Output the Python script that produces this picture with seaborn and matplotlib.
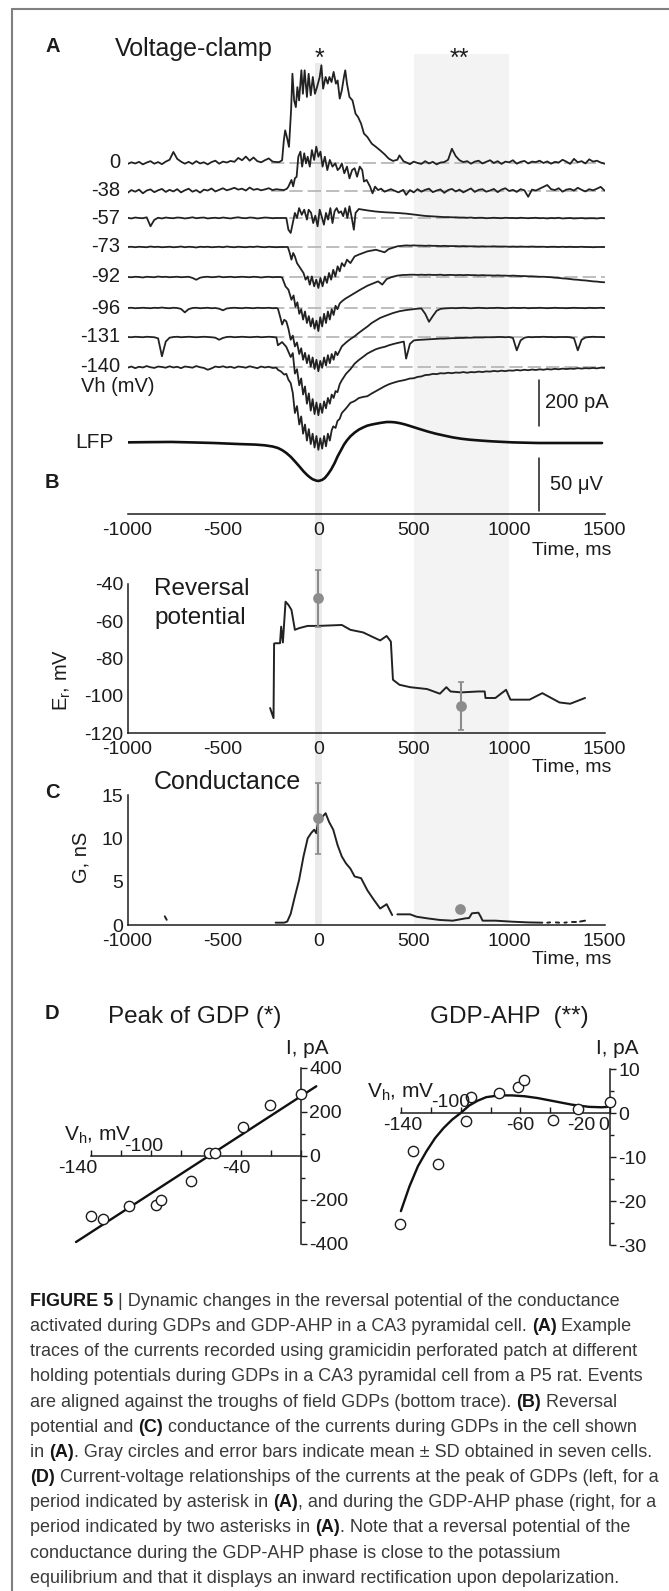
import numpy as np
import matplotlib
matplotlib.use("Agg")
import matplotlib.pyplot as plt
import seaborn as sns
from matplotlib.lines import Line2D
from matplotlib.ticker import MultipleLocator

# ---------------- values ----------------
HOLDING = ["0", "-38", "-57", "-73", "-92", "-96", "-131", "-140"]

GRID_PRE = list(range(-1000, -200, 20))   # ms, quiet stretch before the GDP
GRID_POST = list(range(460, 1501, 20))    # ms, stretch after the GDP

# currents in pA relative to each baseline
pre_0 = [-4, 3, -2, 5, -6, 2, 8, -3, 4, -5, 6, 14, 48, 18, 6, -3, 5, -4, 8, -2,
         3, -6, 4, 10, -3, 6, 2, 9, 5, 22, 12, 28, 10, 24, 8, 3, 12, 20, 6, 4]
ev_t_0 = [-205, -190, -181, -174, -165, -154, -143, -136, -127, -118, -110, -101, -89, -81, -72,
          -60, -51, -40, -29, -18, -7, 7, 16, 25, 38, 49, 58, 69, 80, 92, 101, 112, 123, 134,
          141, 150, 163, 179, 195, 208, 224, 239, 257, 280, 302, 324, 347, 369, 391, 414, 425, 447]
ev_i_0 = [4, 12, 98, 142, 113, 70, 229, 388, 272, 243, 330, 272, 403, 301, 403, 287, 388, 294,
          374, 301, 330, 374, 425, 323, 374, 345, 374, 352, 396, 345, 359, 280, 316, 374, 403,
          345, 287, 272, 214, 200, 171, 128, 113, 84, 70, 55, 38, 19, 9, 14, 33, 7]
post_0 = [3, -5, 6, 0, -4, 8, -2, 5, -6, 2, 4, 14, 62, 30, 12, 4, 8, -3, 6, 10, -2, 5, 12, 0,
          8, -4, 6, 3, 12, -3, 5, 9, -2, 6, 4, 10, 0, 7, -3, 5, 2, 14, 6, -4, 18, 3, 8, -2,
          16, 6, 10, 2, -3]

pre_38 = [-8, 4, -3, 6, -10, 2, 7, -5, 3, 9, -4, 5, -2, 8, -6, 3, 10, -3, 4, -7,
          6, 2, 11, -2, 5, 12, 3, 8, 14, 6, 10, 2, 15, 5, 9, 3, 7, 12, 4, 8]
ev_t_38 = [-205, -180, -165, -157, -141, -132, -123, -114, -105, -94, -85, -74, -65, -56, -45,
           -34, -22, -11, 0, 11, 22, 34, 47, 60, 74, 89, 101, 112, 123, 136, 150, 163, 177, 190,
           203, 217, 230, 239, 253, 271, 284, 297, 313, 329, 347, 380, 420, 445]
ev_i_38 = [6, 4, 10, 19, 48, 20, 55, 62, 149, 171, 106, 164, 120, 149, 106, 178, 135, 193, 149,
           171, 106, 149, 91, 135, 106, 120, 91, 100, 120, 77, 106, 55, 91, 99, 62, 106, 91, 41,
           48, 19, -10, 19, 4, 10, -3, 8, -6, 5]
post_38 = [-17, 4, -6, 8, -3, 5, 10, -5, 2, 7, -8, 4, 9, -2, 6, -6, 3, 11, -4, 5, 8, -3, 2, 9,
           -5, 6, 12, 0, 5, -4, 8, 3, -25, 6, 2, 10, 18, 26, 8, 4, 12, -3, 6, 9, 2, 14, 5, -2,
           8, 3, 10, 18, 2]

pre_57 = [1, -2, 2, 0, -1, 3, -36, -8, 1, -2, 2, 0, -1, 2, 1, -2, 0, 3, -1, 1,
          2, -2, 0, 1, -1, 2, 0, -2, 1, 3, 0, -1, 2, 1, -2, 0, 2, 1, -1, 0]
ev_t_57 = [-200, -168, -157, -145, -134, -123, -112, -101, -87, -74, -60, -51, -38, -27, -16,
           -4, 7, 18, 29, 40, 51, 63, 74, 85, 96, 107, 119, 130, 141, 152, 163, 174, 186, 195,
           212, 257, 302, 347, 414, 445]
ev_i_57 = [0, 0, -51, -65, -22, 22, 0, 43, 14, 36, -7, 36, 22, -22, 10, -36, 36, 5, -29, 22,
           -7, 43, -22, 29, 43, 22, 29, 8, 43, 0, 51, 6, -51, 22, 39, 33, 28, 25, 22, 20]
post_57 = [19, 17, 15, 13, 11, 9, 8, 7, 6, 5, 4, 4, 3, 3, 2, 2, 1, 2, 0, 1, 1, -1, 0, 1, 0,
           -1, 1, 0, 0, -1, 1, 0, -1, 0, 1, -1, 0, -2, 0, -1, 1, -2, -1, 0, -2, -1, 0, -2, -1,
           -1, -2, 0, -1]

pre_73 = [0, 1, -1, 1, 0, -1, 2, 0, 1, -1, 0, 1, -1, 0, 2, -1, 1, 0, -2, 1,
          0, 1, -1, 0, 1, -1, 2, 0, -1, 1, 0, -1, 1, 0, 2, 0, -1, 1, 0, -1]
ev_t_73 = [-200, -160, -150, -141, -132, -123, -112, -101, -89, -78, -67, -56, -45, -34, -22,
           -11, 0, 11, 22, 34, 45, 56, 67, 78, 89, 101, 112, 123, 136, 150, 168, 190, 212, 235,
           257, 302, 347, 369, 414, 445]
ev_i_73 = [0, 0, -26, -55, -26, -41, -70, -84, -99, -113, -142, -128, -164, -128, -171, -142,
           -178, -135, -171, -128, -156, -113, -142, -99, -128, -84, -106, -70, -84, -55, -70,
           -41, -33, -26, -19, -12, -23, -9, 3, 6]
post_73 = [7, 6, 7, 6, 6, 5, 6, 5, 5, 4, 5, 4, 4, 4, 3, 4, 3, 3, 3, 2, 3, 2, 2, 3, 2, 2, 2, 1,
           2, 1, 2, 1, 1, 2, 1, 1, 1, 0, 1, 1, 0, 1, 0, 1, 0, 0, 1, 0, 0, -1, 0, 0, 0]

pre_92 = [0, -1, 1, 0, -2, 1, 0, -1, 2, 0, 1, -1, 0, 1, -1, 0, 1, -4, -12, -3,
          0, 1, -1, 0, 2, -1, 0, 1, -1, 0, 1, 0, -1, 1, 0, -2, 0, 1, -1, 0]
ev_t_92 = [-200, -190, -172, -157, -141, -130, -120, -110, -100, -90, -80, -70, -60, -50, -40,
           -30, -20, -10, 0, 10, 20, 30, 40, 50, 60, 70, 80, 90, 100, 112, 123, 140, 160, 190,
           220, 257, 290, 313, 335, 358, 385, 414, 445]
ev_i_92 = [0, -2, -41, -55, -99, -80, -130, -110, -160, -140, -185, -150, -200, -170, -215, -180,
           -225, -190, -235, -175, -215, -160, -200, -150, -185, -140, -165, -125, -140, -115,
           -106, -95, -85, -70, -55, -38, -27, -19, -33, -9, 0, 6, 9]
post_92 = [9, 10, 10, 9, 10, 9, 10, 9, 9, 10, 8, 9, 9, 8, 9, 8, 9, 8, 8, 7, 8, 7, 7, 6, 7, 6,
           6, 5, 6, 5, 4, 4, 3, 3, 2, 1, 1, 0, -1, -3, -4, -6, -7, -9, -11, -12, -14, -15, -17,
           -19, -20, -22, -23]

pre_96 = [0, 1, -1, 0, 1, 0, -1, 1, 0, 2, 0, -1, 1, 0, -4, -19, -5, 0, 1, -1,
          0, 1, -1, 0, -3, -10, -2, 0, 1, 0, -1, 1, 0, -1, 1, 0, 0, 1, -1, 0]
ev_t_96 = [-212, -201, -190, -179, -168, -157, -145, -134, -123, -112, -100, -90, -80, -70, -60,
           -50, -40, -30, -20, -10, 0, 10, 20, 30, 40, 50, 60, 70, 80, 90, 100, 112, 123, 145,
           168, 190, 212, 235, 258, 280, 302, 324, 358, 391, 425, 445]
ev_i_96 = [-3, -36, -72, -51, -58, -90, -138, -120, -167, -150, -200, -175, -225, -195, -240,
           -205, -255, -215, -265, -225, -275, -230, -260, -215, -250, -205, -240, -200, -225,
           -190, -205, -185, -167, -150, -135, -123, -108, -94, -80, -65, -54, -43, -32, -22,
           -14, -11]
post_96 = [-9, -7, -5, -3, -2, -25, -60, -35, -12, -4, -2, -1, 0, -1, 0, 1, 0, -1, 0, 1, 0, -1,
           0, 0, 1, 0, -1, 0, 1, 0, 0, 1, -1, 0, 0, 1, 0, -1, 0, 1, 0, 0, -1, 0, 1, 0, 0, -1, 1,
           0, 0, 1, 0]

pre_131 = [0, -1, 1, 0, -1, 1, 0, -1, -6, -84, -20, -3, 0, 1, -1, 0, 1, 0, -1, 0,
           1, 0, -1, -3, -12, -4, 0, 1, -1, 0, 1, 0, -1, 0, 1, -1, 0, 1, 0, -2]
ev_t_131 = [-212, -190, -168, -145, -134, -123, -112, -100, -90, -80, -70, -60, -50, -40, -30,
            -20, -10, 0, 10, 20, 30, 40, 50, 60, 70, 80, 90, 100, 112, 123, 145, 168, 190, 212,
            235, 257, 280, 302, 325, 347, 370, 395, 420, 436, 448]
ev_i_131 = [-36, -22, -43, -87, -70, -159, -140, -210, -180, -250, -215, -290, -245, -320, -270,
            -335, -285, -340, -290, -330, -280, -310, -265, -290, -250, -265, -235, -240, -205,
            -188, -160, -140, -116, -100, -86, -72, -62, -53, -47, -43, -36, -30, -25, -22, -20]
post_131 = [-94, -30, -15, -13, -12, -11, -10, -9, -8, -7, -7, -6, -5, -5, -4, -4, -3, -3, -2,
            -2, -2, -1, -1, -1, 0, 0, -1, 0, -4, -58, -15, -3, 0, -1, 0, 0, 1, 0, 0, -1, 0, 0,
            0, -1, -5, -58, -12, -2, 0, 1, 0, 0, -1]

pre_140 = [-3, 2, -5, 1, -2, 4, -1, -4, 2, 0, -3, 3, -2, 1, -5, 2, 0, -3, 4, -1,
           -4, -12, -6, 2, -1, 3, -2, 1, -4, 2, 0, -3, 3, -1, -5, 2, -2, 1, -4, -3]
ev_t_140 = [-212, -195, -179, -168, -157, -145, -134, -123, -112, -100, -90, -80, -70, -60, -50,
            -40, -30, -20, -10, 0, 10, 20, 30, 40, 50, 60, 70, 78, 90, 100, 112, 123, 145, 168,
            190, 212, 235, 257, 280, 302, 325, 347, 370, 395, 420, 445]
ev_i_140 = [-12, -20, -33, -30, -55, -70, -113, -200, -170, -250, -215, -290, -250, -320, -270,
            -335, -290, -350, -300, -360, -310, -355, -300, -345, -290, -320, -275, -258, -265,
            -235, -225, -200, -180, -156, -148, -135, -130, -127, -115, -105, -95, -84, -75,
            -68, -62, -58]
post_140 = [-55, -50, -49, -43, -41, -35, -34, -30, -31, -27, -28, -25, -27, -24, -25, -22, -25,
            -22, -23, -20, -22, -19, -20, -17, -19, -16, -18, -15, -16, -13, -15, -12, -14, -11,
            -13, -10, -12, -9, -11, -8, -10, -7, -9, -7, -8, -5, -7, -5, -6, -4, -6, -3, -4]

# field potential (uV)
lfp_t = [-1000, -900, -771, -650, -548, -414, -330, -280, -240, -212, -190, -168, -145, -123,
         -100, -78, -60, -45, -30, -11, 0, 7, 20, 34, 50, 67, 85, 101, 118, 134, 150, 168, 190,
         212, 235, 257, 280, 302, 330, 358, 380, 402, 430, 458, 490, 525, 570, 615, 660, 704,
         750, 794, 850, 906, 960, 1017, 1080, 1152, 1241, 1350, 1487]
lfp_v = [0.6, 0.8, 1, 0.5, 0, -1, -1.5, -2.2, -3.3, -4.7, -6.7, -9.4, -13, -17.3, -22, -26.7,
         -30, -32.3, -34.2, -35.5, -35.8, -35.5, -34.8, -33, -29.5, -25, -19, -12.6, -7, -1.6,
         2.5, 6.3, 9.8, 12.6, 14.7, 16.4, 17.4, 18.2, 19.1, 19.8, 19.8, 19.5, 18.6, 17.3, 15.5,
         13.5, 11, 8.8, 7, 5.3, 4, 3.1, 2.3, 1.6, 1.1, 0.6, 0.3, 0, 0, 0, 0]

# reversal potential (mV)
er_t = [-253, -235, -232, -224, -201, -195, -186, -172, -157, -141, -123, -101, -56, 0, 123,
        168, 235, 280, 324, 358, 380, 391, 425, 481, 570, 637, 671, 693, 749, 839, 872, 876,
        928, 984, 1007, 1107, 1174, 1264, 1320, 1398]
er_v = [-106.6, -112, -72, -71.8, -71.8, -62.9, -71.4, -49.5, -51.2, -53.9, -64.6, -63.7,
        -62.5, -62.5, -62, -64.6, -66, -68.2, -70.3, -67.9, -70.9, -91.4, -94.1, -95.4, -96.4,
        -98.9, -95.4, -97.7, -98.2, -97.7, -97.7, -101.2, -101.2, -96.8, -102.1, -102.1,
        -98.6, -103.6, -104.3, -101.2]

# conductance (nS)
g_t = [-805, -795, np.nan,
       -224, -179, -163, -145, -123, -101, -78, -56, -38, -22, -11, 0, 22, 38, 56, 78, 101, 123,
       145, 168, 190, 224, 257, 291, 324, 358, 387, np.nan,
       414, 481, 514, 570, 637, 705, 772, 790, 805, 839, 850, 861, 928, 1018, 1100, 1174,
       np.nan, 1200, 1215, np.nan, 1245, 1262, np.nan, 1290, 1302, np.nan, 1330, 1352, np.nan,
       1372, 1398]
g_v = [1.0, 0.6, np.nan,
       0.27, 0.27, 0.4, 1.3, 3.3, 5.2, 7.9, 10.0, 10.6, 11.0, 10.6, 12.1, 12.5, 12.9, 11.9,
       11.0, 9.2, 7.9, 7.1, 6.5, 5.6, 5.4, 4.0, 2.9, 1.9, 2.4, 1.15, np.nan,
       1.23, 1.23, 0.96, 0.77, 0.58, 0.5, 0.77, 0.8, 1.35, 1.42, 1.0, 0.5, 0.5, 0.38, 0.3, 0.27,
       np.nan, 0.27, 0.3, np.nan, 0.3, 0.27, np.nan, 0.27, 0.3, np.nan, 0.3, 0.3, np.nan,
       0.4, 0.5]

# mean +- SD over seven cells
er_mean_t = [0, 749]
er_mean = [-47.7, -105.5]
er_sd = [15.3, 12.8]
g_mean_t = [0, 740]
g_mean = [12.3, 1.8]
g_sd = [4.1, 0]

BAND_MS = (500, 1000)
PEAK_MS = (-17, 17)

# I-V relations
iv_peak_v = [-140, -131.8, -114.5, -96.6, -93.2, -73.6, -61.3, -57.1, -38.6, -21, 0]
iv_peak_i = [-274, -286, -227, -223, -201, -114, 15, 14, 130, 230, 280]
fit_peak_v = [-150, 10.2]
fit_peak_i = [-391, 317]

iv_ahp_v = [-140.6, -132, -114.9, -96.3, -92.9, -74.3, -61.4, -57.7, -38.3, -21.4, 0]
iv_ahp_i = [-25.2, -8.7, -11.6, -1.9, 3.6, 4.5, 5.9, 7.6, -1.7, 0.9, 2.5]
fit_ahp_v = [-140, -134.3, -128.6, -122.9, -117.1, -111.4, -105.7, -100, -94.3, -88.6, -82.9,
             -74.3, -65.7, -57.1, -48.6, -37.1, -25.7, -14.3, -5.7, -1.4]
fit_ahp_i = [-22.3, -16.7, -12.1, -8.7, -5.7, -3.4, -1.5, 0, 1.7, 2.8, 3.6, 4.0, 4.0, 3.8, 3.4,
             2.65, 1.9, 1.4, 1.3, 1.4]

CAPTION = [
    [("FIGURE 5", True), (" | Dynamic changes in the reversal potential of the conductance", False)],
    [("activated during GDPs and GDP-AHP in a CA3 pyramidal cell. ", False), ("(A)", True), (" Example", False)],
    [("traces of the currents recorded using gramicidin perforated patch at different", False)],
    [("holding potentials during GDPs in a CA3 pyramidal cell from a P5 rat. Events", False)],
    [("are aligned against the troughs of field GDPs (bottom trace). ", False), ("(B)", True), (" Reversal", False)],
    [("potential and ", False), ("(C)", True), (" conductance of the currents during GDPs in the cell shown", False)],
    [("in ", False), ("(A)", True), (". Gray circles and error bars indicate mean \u00b1 SD obtained in seven cells.", False)],
    [("(D)", True), (" Current-voltage relationships of the currents at the peak of GDPs (left, for a", False)],
    [("period indicated by asterisk in ", False), ("(A)", True), (", and during the GDP-AHP phase (right, for a", False)],
    [("period indicated by two asterisks in ", False), ("(A)", True), (". Note that a reversal potential of the", False)],
    [("conductance during the GDP-AHP phase is close to the potassium", False)],
    [("equilibrium and that it displays an inward rectification upon depolarization.", False)],
]

# ---------------- style / layout ----------------
sns.set_theme(style="white")
plt.rcParams["font.family"] = ["Liberation Sans", "DejaVu Sans"]
plt.rcParams["axes.unicode_minus"] = False
plt.rcParams["mathtext.fontset"] = "custom"
plt.rcParams["mathtext.rm"] = "Liberation Sans"
plt.rcParams["mathtext.it"] = "Liberation Sans:italic"
plt.rcParams["mathtext.bf"] = "Liberation Sans:bold"

W, H = 669, 1591
INK = "#1c1c1c"
PT_GRAY = "#8c8c8c"
PA_PER_PX = 200 / 46
UV_PER_PX = 50 / 53
X0, X1 = 127.6, 604.5          # pixel span of -1000..1500 ms
A_TOP, A_AXIS = 40, 514
BASE_Y_PX = [163, 191, 218, 247, 277, 308, 337, 367]
LFP_Y_PX = 443
BAR_T = 1158

fig = plt.figure(figsize=(W / 100, H / 100), dpi=100)


def box(x0, y0, x1, y1):
    return [x0 / W, 1 - y1 / H, (x1 - x0) / W, (y1 - y0) / H]


def ftext(x, y, s, **kw):
    kw.setdefault("va", "center")
    kw.setdefault("color", INK)
    return fig.text(x / W, 1 - y / H, s, **kw)


def time_axis(ax):
    for side in ["top", "right"]:
        ax.spines[side].set_visible(False)
    ax.set_xlim(-1000, 1500)
    ax.set_xticks([-1000, -500, 0, 500, 1000, 1500])
    ax.tick_params(axis="both", direction="in", length=6, width=1.1, labelsize=14,
                   pad=4, colors=INK)
    ax.tick_params(axis="x", pad=6)
    ax.tick_params(axis="both", which="minor", direction="in", length=3, width=1.0, colors=INK)
    for s in ax.spines.values():
        s.set_color(INK)
        s.set_linewidth(1.1)
    ax.set_xlabel("")
    ax.set_ylabel("")
    ax.grid(False)


# frame
fig.add_artist(Line2D([12 / W, 1], [1 - 9 / H] * 2, transform=fig.transFigure,
                      color="#808080", lw=1.5))
fig.add_artist(Line2D([12 / W] * 2, [0, 1 - 9 / H], transform=fig.transFigure,
                      color="#808080", lw=1.5))

# shaded windows behind A-C
bg = fig.add_axes(box(X0, 54, X1, 925))
bg.set_xlim(-1000, 1500)
bg.axis("off")
bg.axvspan(*BAND_MS, color="#f3f3f3", lw=0)
bg.axvspan(*PEAK_MS, ymax=1 - 9 / 871, color="#ebebeb", lw=0)

# ---------------- panel A ----------------
ax_a = fig.add_axes(box(X0, A_TOP, X1, A_AXIS), facecolor="none")
traces = [(pre_0, ev_t_0, ev_i_0, post_0), (pre_38, ev_t_38, ev_i_38, post_38),
          (pre_57, ev_t_57, ev_i_57, post_57), (pre_73, ev_t_73, ev_i_73, post_73),
          (pre_92, ev_t_92, ev_i_92, post_92), (pre_96, ev_t_96, ev_i_96, post_96),
          (pre_131, ev_t_131, ev_i_131, post_131), (pre_140, ev_t_140, ev_i_140, post_140)]
for name, ypx, (pre, ev_t, ev_i, post) in zip(HOLDING, BASE_Y_PX, traces):
    off = (A_AXIS - ypx) * PA_PER_PX
    t = GRID_PRE[:len(pre)] + ev_t + GRID_POST[:len(post)]
    cur = np.array(pre + ev_i + post, dtype=float) + off
    ax_a.plot([-250, 1500], [off, off], color="#b3b3b3", lw=1.2, ls=(0, (8, 3)), zorder=1)
    sns.lineplot(x=t, y=cur, ax=ax_a, color="#222222", linewidth=1.3, estimator=None,
                 errorbar=None, zorder=2)
    ax_a.text(-1040, off, name, ha="right", va="center", fontsize=14.5, color=INK)
ax_a.plot([BAR_T, BAR_T], [(A_AXIS - 426) * PA_PER_PX, (A_AXIS - 426) * PA_PER_PX + 200],
          color=INK, lw=1.1)
time_axis(ax_a)
ax_a.spines["left"].set_visible(False)
ax_a.set_yticks([])
ax_a.set_ylim(0, (A_AXIS - A_TOP) * PA_PER_PX)
ax_a.set_xlim(-1000, 1500)

ax_l = fig.add_axes(box(X0, A_TOP, X1, A_AXIS), facecolor="none")
sns.lineplot(x=lfp_t, y=lfp_v, ax=ax_l, color="#111111", linewidth=1.9, estimator=None,
             errorbar=None)
bar_lo = -(511 - LFP_Y_PX) * UV_PER_PX
ax_l.plot([BAR_T, BAR_T], [bar_lo, bar_lo + 50], color=INK, lw=1.1)
ax_l.set_xlim(-1000, 1500)
ax_l.set_ylim(-(A_AXIS - LFP_Y_PX) * UV_PER_PX, (LFP_Y_PX - A_TOP) * UV_PER_PX)
ax_l.axis("off")

ftext(45, 47, "A", fontsize=14.5, fontweight="bold")
ftext(115, 49, "Voltage-clamp", fontsize=18)
ftext(319, 66, "*", fontsize=18, ha="center", va="baseline")
ftext(459, 66, "**", fontsize=18, ha="center", va="baseline")
ftext(81, 387, "Vh (mV)", fontsize=14.5)
ftext(545, 403, "200 pA", fontsize=14.5)
ftext(75, 443, "LFP", fontsize=15)
ftext(550, 485, "50 \u03bcV", fontsize=14.5)
ftext(45, 482, "B", fontsize=14.5, fontweight="bold")
ftext(611, 550, "Time, ms", fontsize=14, ha="right")

# ---------------- panel B ----------------
ax_b = fig.add_axes(box(X0, 584, X1, 733), facecolor="none")
sns.lineplot(x=er_t, y=er_v, ax=ax_b, color="#222222", linewidth=1.4, estimator=None,
             errorbar=None, zorder=2)
ax_b.errorbar(er_mean_t, er_mean, yerr=er_sd, fmt="none", ecolor=PT_GRAY, elinewidth=1.5,
              capsize=2.2, capthick=1.2, clip_on=False, zorder=3)
sns.scatterplot(x=er_mean_t, y=er_mean, ax=ax_b, color=PT_GRAY, s=60, linewidth=0,
                zorder=4, clip_on=False)
time_axis(ax_b)
ax_b.set_ylim(-120, -40)
ax_b.set_yticks([-120, -100, -80, -60, -40])
ax_b.yaxis.set_minor_locator(MultipleLocator(10))
ax_b.tick_params(axis="y", pad=3)
ftext(154, 589, "Reversal", fontsize=17.5)
ftext(154, 618, "potential", fontsize=17.5)
ftext(62, 680, "E$_\\mathrm{r}$, mV", fontsize=14.5, rotation=90, ha="center")
ftext(611, 767, "Time, ms", fontsize=14, ha="right")

# ---------------- panel C ----------------
ax_c = fig.add_axes(box(X0, 795, X1, 925), facecolor="none")
gt = np.array(g_t, dtype=float)
gv = np.array(g_v, dtype=float)
cuts = np.flatnonzero(np.isnan(gt))
for seg_t, seg_v in zip(np.split(gt, cuts), np.split(gv, cuts)):
    keep = ~np.isnan(seg_t)
    sns.lineplot(x=seg_t[keep], y=seg_v[keep], ax=ax_c, color="#222222", linewidth=1.4,
                 estimator=None, errorbar=None, zorder=2)
ax_c.errorbar(g_mean_t, g_mean, yerr=g_sd, fmt="none", ecolor=PT_GRAY, elinewidth=1.5,
              capsize=2.2, capthick=1.2, clip_on=False, zorder=3)
sns.scatterplot(x=g_mean_t, y=g_mean, ax=ax_c, color=PT_GRAY, s=60, linewidth=0,
                zorder=4, clip_on=False)
time_axis(ax_c)
ax_c.set_ylim(0, 15)
ax_c.set_yticks([0, 5, 10, 15])
ax_c.tick_params(axis="y", pad=3)
ftext(45, 792, "C", fontsize=14.5, fontweight="bold")
ftext(154, 782, "Conductance", fontsize=18)
ftext(81, 857, "G, nS", fontsize=14.5, rotation=90, ha="center")
ftext(611, 959, "Time, ms", fontsize=14, ha="right")


# ---------------- panel D ----------------
def iv_axes(rect, ylim, ybounds, yticks, yminor):
    ax = fig.add_axes(rect, facecolor="none")
    ax.set_xlim(-160, 30)
    ax.set_ylim(*ylim)
    ax.spines["left"].set_visible(False)
    ax.spines["top"].set_visible(False)
    ax.spines["right"].set_position(("data", 0))
    ax.spines["bottom"].set_position(("data", 0))
    ax.spines["right"].set_bounds(*ybounds)
    ax.spines["bottom"].set_bounds(-140, 0)
    for s in ax.spines.values():
        s.set_color(INK)
        s.set_linewidth(1.1)
    ax.yaxis.set_ticks_position("right")
    ax.xaxis.set_ticks_position("bottom")
    ax.set_yticks(yticks)
    ax.yaxis.set_minor_locator(MultipleLocator(yminor))
    ax.set_xticks(list(range(-140, 1, 20)))
    ax.tick_params(axis="x", direction="in", length=4, width=1.0, labelbottom=False,
                   colors=INK)
    ax.tick_params(axis="y", which="both", direction="out", width=1.0, labelsize=14,
                   pad=2, colors=INK)
    ax.tick_params(axis="y", which="major", length=4)
    ax.tick_params(axis="y", which="minor", length=3)
    ax.grid(False)
    return ax


ax_dl = iv_axes(box(61, 1063.6, 346, 1248.4), (-420, 420), (-400, 400),
                [-400, -200, 0, 200, 400], 100)
sns.lineplot(x=fit_peak_v, y=fit_peak_i, ax=ax_dl, color="#111111", linewidth=1.7,
             estimator=None, errorbar=None, zorder=2)
sns.scatterplot(x=iv_peak_v, y=iv_peak_i, ax=ax_dl, color="white", edgecolor=INK,
                linewidth=1.0, s=55, zorder=3, clip_on=False)
ax_dl.set_xlabel("")
ax_dl.set_ylabel("")
for v, i, lab in [(-149, -58, "-140"), (-105, 41, "-100"), (-43, -58, "-40")]:
    ax_dl.text(v, i, lab, ha="center", va="center", fontsize=14, color=INK)

ax_dr = iv_axes(box(371, 1064.6, 655, 1249.4), (-31, 11), (-30, 10),
                [-30, -20, -10, 0, 10], 5)
sns.lineplot(x=fit_ahp_v, y=fit_ahp_i, ax=ax_dr, color="#111111", linewidth=1.7,
             estimator=None, errorbar=None, zorder=2)
sns.scatterplot(x=iv_ahp_v, y=iv_ahp_i, ax=ax_dr, color="white", edgecolor=INK,
                linewidth=1.0, s=55, zorder=3, clip_on=False)
ax_dr.set_xlabel("")
ax_dr.set_ylabel("")
for v, i, lab in [(-138.6, -2.9, "-140"), (-107, 2.3, "-100"), (-60, -2.9, "-60"),
                  (-19.4, -2.9, "-20"), (-4.3, -2.9, "0")]:
    ax_dr.text(v, i, lab, ha="center", va="center", fontsize=14, color=INK)

ftext(45, 1013, "D", fontsize=14.5, fontweight="bold")
ftext(195, 1017, "Peak of GDP (*)", fontsize=17.5, ha="center")
ftext(509, 1017, "GDP-AHP  (**)", fontsize=17.5, ha="center")
ftext(328.5, 1048, "I, pA", fontsize=15, ha="right")
ftext(638, 1048, "I, pA", fontsize=15, ha="right")
ftext(64, 1135, "V$_\\mathrm{h}$, mV", fontsize=15)
ftext(367, 1092, "V$_\\mathrm{h}$, mV", fontsize=15)

# ---------------- caption ----------------
renderer = fig.canvas.get_renderer()


def seg_width(s, **kw):
    a = fig.text(0, 0, s + "|", **kw)
    b = fig.text(0, 0, "|", **kw)
    w = a.get_window_extent(renderer).width - b.get_window_extent(renderer).width
    a.remove()
    b.remove()
    return w


def line_width(parts, size):
    return sum(seg_width(s, fontsize=size, fontweight="bold" if bold else "normal")
               for s, bold in parts)


cap_size = 12 * 623 / line_width(CAPTION[6], 12)
for k, parts in enumerate(CAPTION):
    x = 30
    y = 1300 + 25.15 * k + 6
    for s, bold in parts:
        kw = dict(fontsize=cap_size, fontweight="bold" if bold else "normal")
        fig.text(x / W, 1 - y / H, s, va="baseline",
                 color="#161616" if bold else "#3a3a3a", **kw)
        x += seg_width(s, **kw)

fig.savefig("out.png", dpi=100, facecolor="white")
